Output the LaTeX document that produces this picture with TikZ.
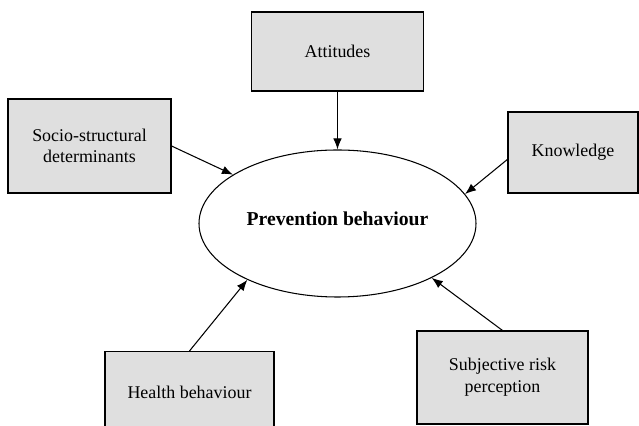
\documentclass[tikz,border=0pt]{standalone}
\usepackage{fontspec}
\setmainfont{Liberation Serif}
\usetikzlibrary{shapes.geometric,arrows.meta}

\begin{document}
\begin{tikzpicture}[
        factor/.style={draw, fill=gray!25, semithick, align=center,
            font=\fontsize{10.2}{12.3}\selectfont},
        link/.style={-{Latex[length=2.2mm, width=1.7mm]}, semithick}
    ]
    \useasboundingbox (0, 0) rectangle (12.78, 8.52);

    % central outcome
    \node[ellipse, draw, semithick, minimum width=5.54cm, minimum height=2.94cm] (prev) at (6.75, 4.05) {};
    \node[font=\fontsize{11.2}{13}\selectfont\bfseries] (prevlabel) at (6.75, 4.15) {Prevention behaviour};

    % influencing factors
    \node[factor, minimum width=3.44cm, minimum height=1.58cm] (att) at (6.75, 7.49) {Attitudes};
    \node[factor, minimum width=3.26cm, minimum height=1.88cm] (socio) at (1.79, 5.6) {Socio-structural\\determinants};
    \node[factor, minimum width=2.6cm, minimum height=1.62cm] (know) at (11.46, 5.47) {Knowledge};
    \node[factor, minimum width=3.38cm, minimum height=1.62cm] (health) at (3.79, 0.68) {Health behaviour};
    \node[factor, minimum width=3.42cm, minimum height=1.86cm] (subj) at (10.05, 0.97) {Subjective risk\\perception};

    \draw[link] (att.south) -- (prev.north);
    \draw[link] (socio.east) -- (prev);
    \draw[link] (know.186) -- (prev.13.8);
    \draw[link] (health.north) -- (prev.212.9);
    \draw[link] (subj.north) -- (prev.330.4);
\end{tikzpicture}
\end{document}
